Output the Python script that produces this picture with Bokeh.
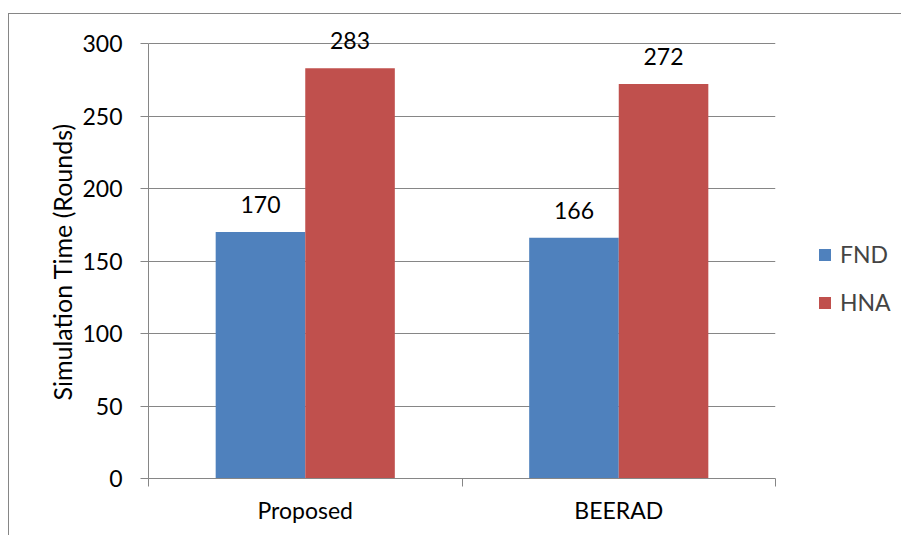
from bokeh.plotting import figure
from bokeh.core.properties import value
from bokeh.models import (ColumnDataSource, FixedTicker, LabelSet, Legend,
                          LegendItem, Range1d, Title)
from bokeh.embed import file_html
from bokeh.resources import INLINE

# Chart data
categories = ["Proposed", "BEERAD"]
series_names = ["FND", "HNA"]
fnd = [170, 166]
hna = [283, 272]
y_ticks = [0, 50, 100, 150, 200, 250, 300]
y_title = "Simulation Time (Rounds)"

colors = ["#4F81BD", "#C0504D"]
grey = "#868686"
font = "Lato"

# Excel-like clustered bars: gap width 150% of a bar
bar_w = 1 / 3.5
centers = [i + 0.5 for i in range(len(categories))]

# frame is a little taller than the value axis so the top value label has room
p = figure(frame_width=627, frame_height=464,
           output_backend="svg", toolbar_location=None,
           x_range=Range1d(0, len(categories)), y_range=Range1d(0, 320),
           min_border_left=139, min_border_right=118,
           min_border_top=0, min_border_bottom=58)
p.styles = {"margin-left": "8px", "margin-top": "13px",
            "border-left": f"1px solid {grey}", "border-top": f"1px solid {grey}"}
p.outline_line_color = None
p.background_fill_color = "white"
p.border_fill_color = "white"

renderers = []
for k, (name, vals) in enumerate(zip(series_names, [fnd, hna])):
    xs = [c + (k - 0.5) * bar_w for c in centers]
    src = ColumnDataSource(dict(x=xs, top=vals, label=[str(v) for v in vals]))
    r = p.vbar(x="x", top="top", width=bar_w, bottom=0, source=src,
               fill_color=colors[k], line_color=None)
    renderers.append(r)
    p.add_layout(LabelSet(x="x", y="top", text="label", source=src,
                          text_align="center", text_baseline="bottom",
                          y_offset=19, text_font=value(font),
                          text_font_size="23px", text_color="black"))

# y axis
p.yaxis.ticker = FixedTicker(ticks=y_ticks)
p.yaxis.bounds = (y_ticks[0], y_ticks[-1])
p.yaxis.major_label_text_font = font
p.yaxis.major_label_text_font_size = "23px"
p.yaxis.major_label_text_color = "black"
p.yaxis.major_label_standoff = 18
p.yaxis.axis_line_color = grey
p.yaxis.major_tick_line_color = grey
p.yaxis.major_tick_in = 0
p.yaxis.major_tick_out = 8
p.yaxis.minor_tick_line_color = None

# value-axis title, centred on the 0-300 span rather than the whole frame
p.add_layout(Title(text=y_title, align="left", offset=78, standoff=6,
                   text_font=font, text_font_size="25px",
                   text_font_style="normal", text_color="black"), "left")

# x axis: labels at category centres, tick marks at category boundaries
p.xaxis.ticker = FixedTicker(ticks=centers,
                             minor_ticks=list(range(len(categories) + 1)))
p.xaxis.major_label_overrides = {c: name for c, name in zip(centers, categories)}
p.xaxis.major_label_text_font = font
p.xaxis.major_label_text_font_size = "23px"
p.xaxis.major_label_text_color = "black"
p.xaxis.major_label_standoff = 9
p.xaxis.major_tick_line_color = None
p.xaxis.major_tick_in = 0
p.xaxis.major_tick_out = 0
p.xaxis.minor_tick_line_color = grey
p.xaxis.minor_tick_in = 0
p.xaxis.minor_tick_out = 8
p.xaxis.axis_line_color = grey

p.xgrid.grid_line_color = None
p.ygrid.grid_line_color = grey
p.ygrid.grid_line_width = 1

legend = Legend(items=[LegendItem(label=n, renderers=[r])
                       for n, r in zip(series_names, renderers)],
                location=(42, 162), orientation="vertical",
                glyph_width=15, glyph_height=15, label_standoff=8,
                spacing=20, padding=0, margin=0,
                label_text_font=font, label_text_font_size="23px",
                border_line_color=None, background_fill_alpha=0)
p.add_layout(legend, "right")

open("out.html", "w").write(file_html(p, INLINE))
